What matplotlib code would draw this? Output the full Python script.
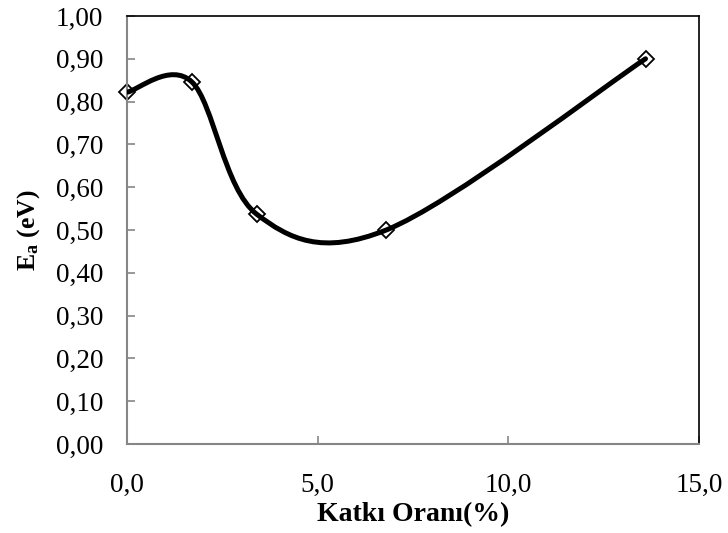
import matplotlib.pyplot as plt
from matplotlib.path import Path
from matplotlib.patches import PathPatch
import numpy as np

# katkı oranı (%) ve aktivasyon enerjisi (eV)
katki = [0.0, 1.7, 3.4, 6.8, 13.6]
ea = [0.822, 0.846, 0.537, 0.500, 0.900]

xticks = [0, 5, 10, 15]
xtick_labels = ['0,0', '5,0', '10,0', '15,0']
yticks = [0.0, 0.1, 0.2, 0.3, 0.4, 0.5, 0.6, 0.7, 0.8, 0.9, 1.0]
ytick_labels = ['0,00', '0,10', '0,20', '0,30', '0,40', '0,50', '0,60', '0,70', '0,80', '0,90', '1,00']

plt.rcParams['font.family'] = ['Liberation Serif', 'DejaVu Serif']
plt.rcParams['mathtext.fontset'] = 'custom'
plt.rcParams['mathtext.rm'] = 'Liberation Serif'
plt.rcParams['mathtext.bf'] = 'Liberation Serif:bold'

fig = plt.figure(figsize=(7.28, 5.33), dpi=100)
ax = fig.add_axes([0.1745, 0.167, 0.7855, 0.803])

# excel tarzı yumuşatılmış çizgi (bezier kontrol noktaları)
p = np.column_stack([katki, ea])
pts = np.vstack([p[0], p, p[-1]])
verts = [tuple(p[0])]
codes = [Path.MOVETO]
for i in range(1, len(pts) - 2):
    c1 = pts[i] + (pts[i + 1] - pts[i - 1]) / 6
    c2 = pts[i + 1] - (pts[i + 2] - pts[i]) / 6
    verts += [tuple(c1), tuple(c2), tuple(pts[i + 1])]
    codes += [Path.CURVE4] * 3

ax.plot(katki, ea, linestyle='none', marker='D', markersize=8,
        markerfacecolor='none', markeredgecolor='black', markeredgewidth=1.3,
        zorder=2, clip_on=False)
ax.add_patch(PathPatch(Path(verts, codes), facecolor='none', edgecolor='black',
                       linewidth=3.6, capstyle='round', zorder=3))

ax.set_xlim(0, 15)
ax.set_ylim(0, 1.0)
ax.set_xticks(xticks)
ax.set_xticklabels(xtick_labels)
ax.set_yticks(yticks)
ax.set_yticklabels(ytick_labels)
ax.tick_params(direction='in', length=6, width=1.2, color='#868686', labelsize=19.5)
ax.tick_params(axis='y', pad=17)
ax.tick_params(axis='x', pad=21)

for s in ['left', 'bottom']:
    ax.spines[s].set_color('#868686')
    ax.spines[s].set_linewidth(1.5)
for s in ['top', 'right']:
    ax.spines[s].set_color('black')
    ax.spines[s].set_linewidth(1.2)

ax.set_xlabel('Katkı Oranı(%)', fontsize=20, fontweight='bold', labelpad=3)
ax.set_ylabel(r'$\mathbf{E_a}$ (eV)', fontsize=18.5, fontweight='bold', labelpad=10)

fig.savefig('out.png', dpi=100)
